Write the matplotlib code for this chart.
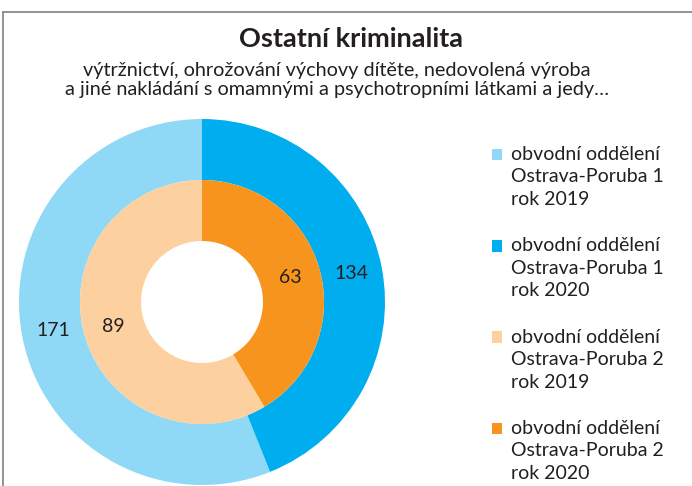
import matplotlib.pyplot as plt
from matplotlib.patches import Patch
from matplotlib.lines import Line2D

plt.rcParams['font.family'] = ['Lato', 'DejaVu Sans']

title = "Ostatní kriminalita"
subtitle = "výtržnictví, ohrožování výchovy dítěte, nedovolená výroba\na jiné nakládání s omamnými a psychotropními látkami a jedy…"

# outer ring: Ostrava-Poruba 1 (2019, 2020), inner ring: Ostrava-Poruba 2 (2019, 2020)
outer_vals = [171, 134]
inner_vals = [89, 63]
outer_colors = ["#8fd8f6", "#00aeef"]
inner_colors = ["#fdd09f", "#f7941d"]
legend_labels = [
    "obvodní oddělení\nOstrava-Poruba 1\nrok 2019",
    "obvodní oddělení\nOstrava-Poruba 1\nrok 2020",
    "obvodní oddělení\nOstrava-Poruba 2\nrok 2019",
    "obvodní oddělení\nOstrava-Poruba 2\nrok 2020",
]

fig = plt.figure(figsize=(6.92, 4.86), dpi=100)

# frame lines (top + left)
fig.add_artist(Line2D([3/692, 3/692], [0, 1 - 12/486], color="#8a8a8a", lw=1.3))
fig.add_artist(Line2D([3/692, 1], [1 - 12/486, 1 - 12/486], color="#8a8a8a", lw=1.3))

fig.text(0.507, 1 - 39/486, title, ha="center", va="center", fontsize=19.5,
         fontweight="bold", color="#231f20")
fig.text(0.487, 1 - 80/486, subtitle, ha="center", va="center", fontsize=14.3,
         color="#231f20", linespacing=1.2)

R = 183
cx, cy = 202, 302
ax = fig.add_axes([(cx - R) / 692, (486 - cy - R) / 486, 2 * R / 692, 2 * R / 486])


def fmt(vals):
    tot = sum(vals)
    return lambda p: f"{round(p * tot / 100)}"


_, _, t1 = ax.pie(outer_vals, radius=1.0, colors=outer_colors, startangle=90,
                  wedgeprops=dict(width=1/3, linewidth=0), autopct=fmt(outer_vals),
                  pctdistance=0.83, textprops=dict(fontsize=14, color="#231f20"))
_, _, t2 = ax.pie(inner_vals, radius=2/3, colors=inner_colors, startangle=90,
                  wedgeprops=dict(width=1/3, linewidth=0), autopct=fmt(inner_vals),
                  pctdistance=0.75, textprops=dict(fontsize=14, color="#231f20"))
ax.set_xlim(-1, 1)
ax.set_ylim(-1, 1)
ax.set_aspect("auto")

fs = 14
ls = 1.4
pitch_pt = 22.5 * 72 / 100  # one text line, in points
handles = [Patch(facecolor=c) for c in outer_colors + inner_colors]
leg = fig.legend(handles, legend_labels, loc="upper left",
                 bbox_to_anchor=(484/692, 1 - 138/486), frameon=False,
                 fontsize=fs, handlelength=0.55, handleheight=0.55, handletextpad=0.45,
                 labelspacing=1.5, borderaxespad=0, labelcolor="#231f20")
for t in leg.get_texts():
    t.set_linespacing(ls)
# move the squares up from the middle line to the first line of each entry
for h in leg.legend_handles:
    h.set_y(h.get_y() + pitch_pt)

fig.savefig("out.png", dpi=100)
